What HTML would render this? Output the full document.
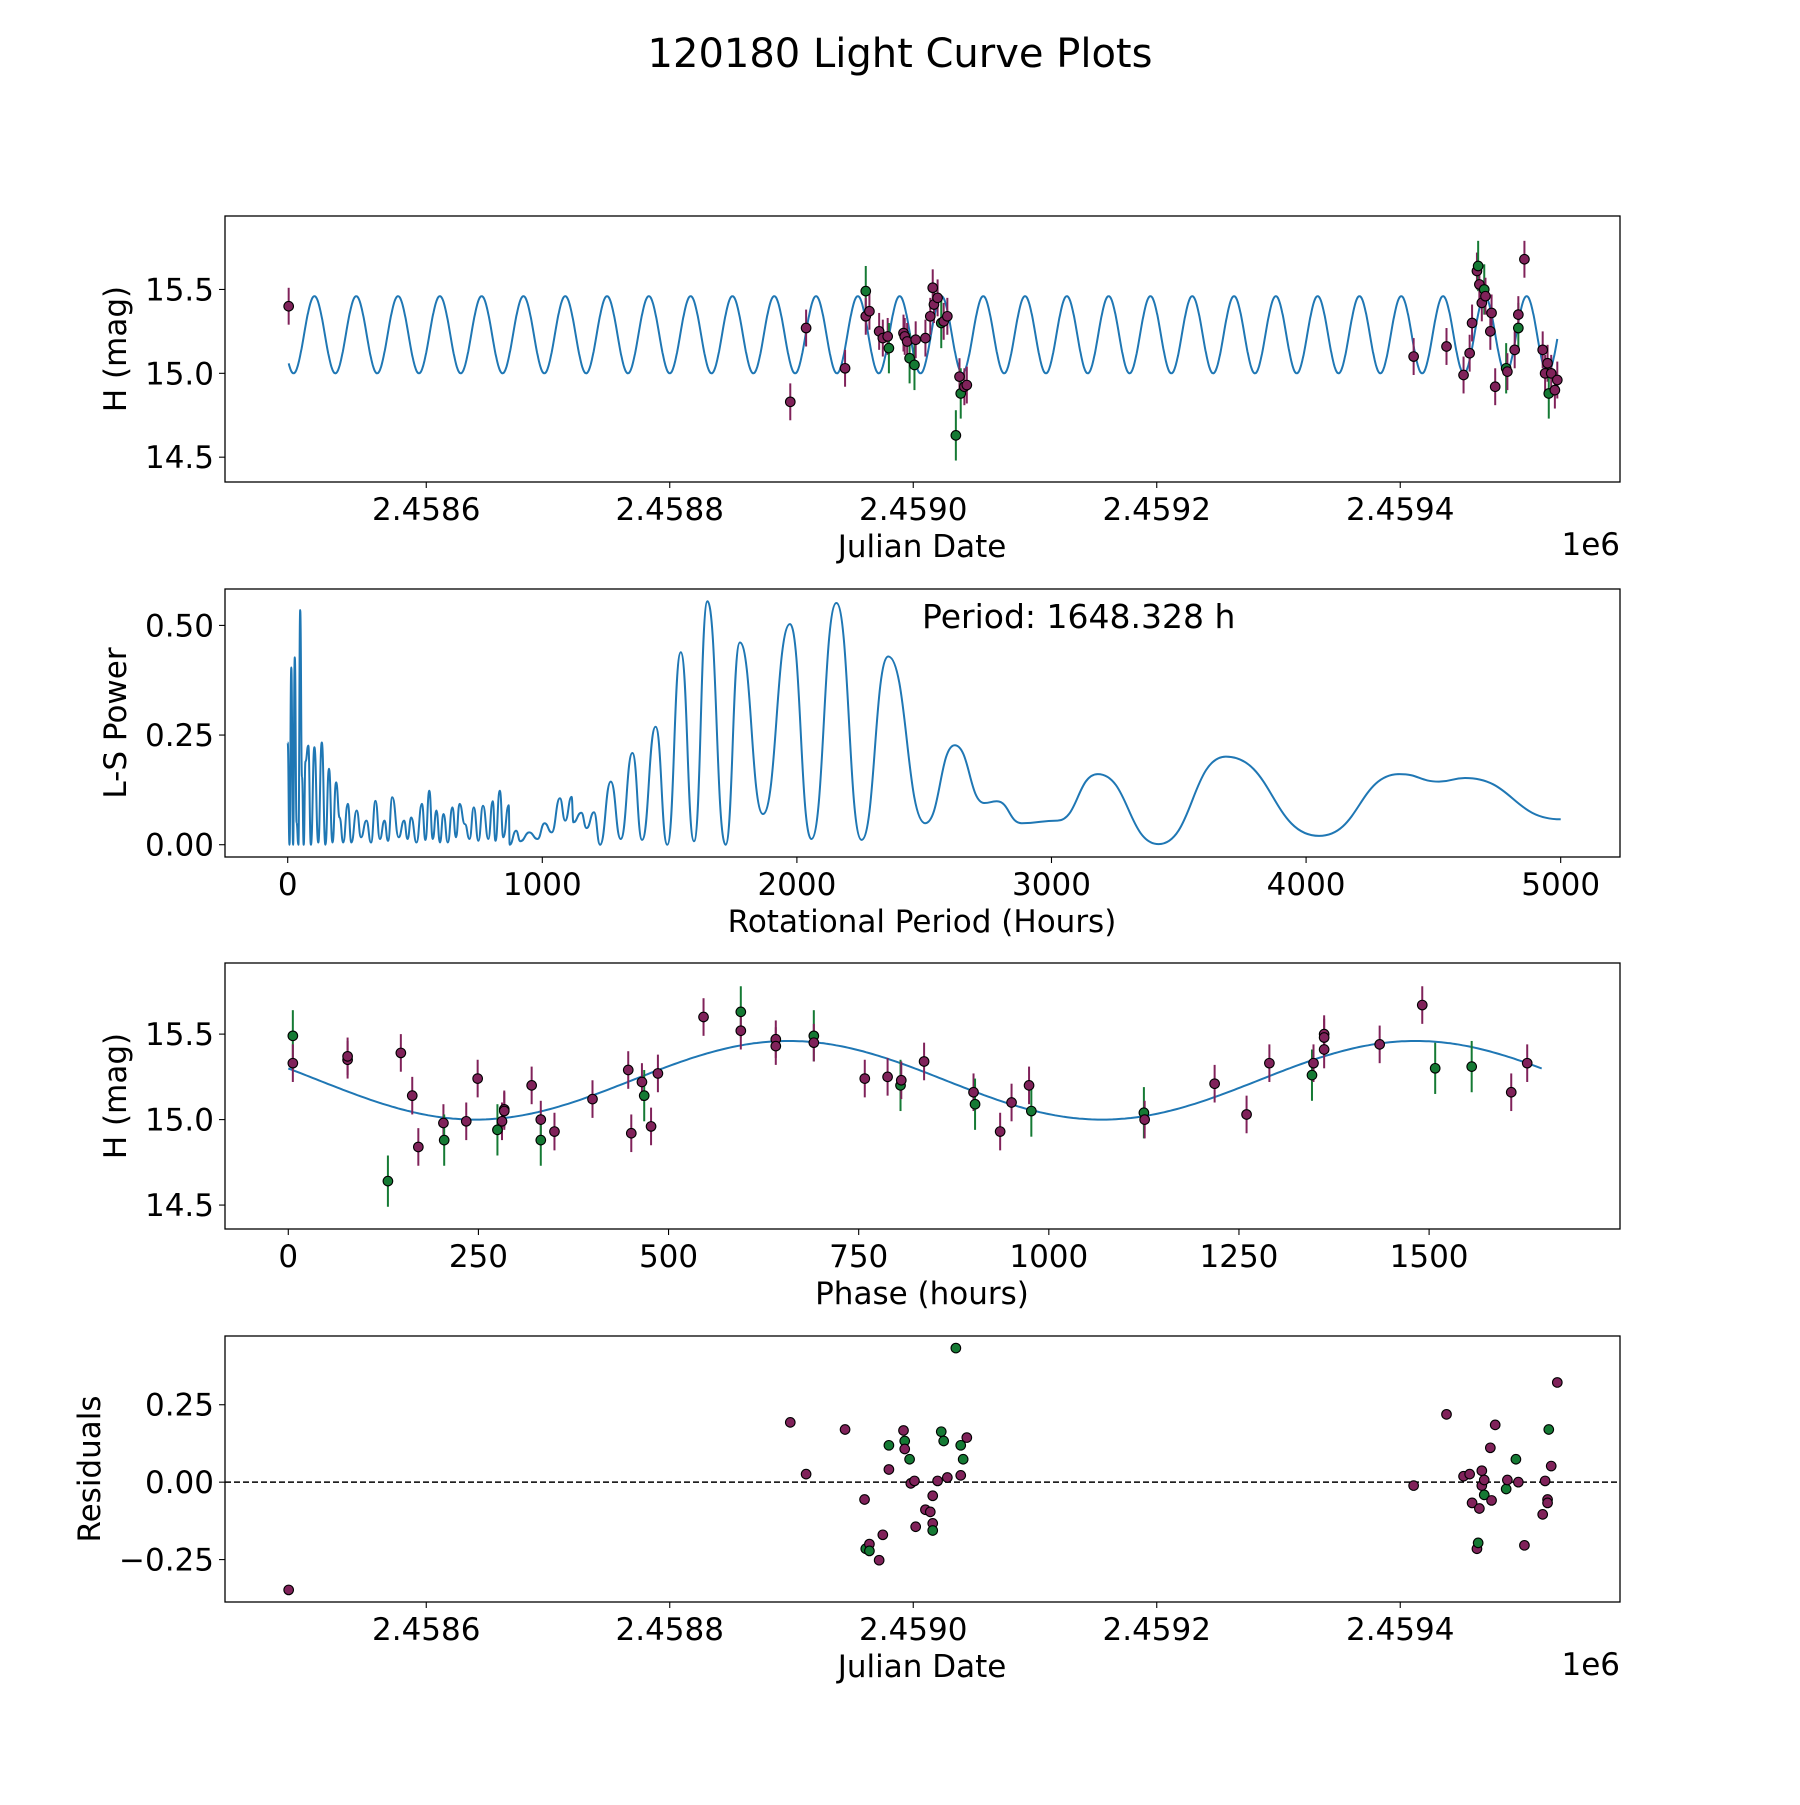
<!DOCTYPE html>
<html><head><meta charset="utf-8"><style>
html,body{margin:0;padding:0;background:#fff;}
svg text{font-family:"DejaVu Sans","Liberation Sans",sans-serif;fill:#000;}
</style></head><body>
<svg id="fig" xmlns="http://www.w3.org/2000/svg" width="1800" height="1800" viewBox="0 0 1800 1800">
<rect x="0" y="0" width="1800" height="1800" fill="#fff"/>
<text x="900" y="67" font-size="40" text-anchor="middle">120180 Light Curve Plots</text>
</svg>
<script>
// ---- data: light curve (panel 1) ----
const lcJD = [2458487,2458899,2458912,2458944,2458961,2458961,2458964,2458972,2458975,2458979,2458980,2458992,2458993,2458995,2458997,2459001,2459002,2459010,2459014,2459016,2459017,2459020,2459023,2459025,2459028,2459035,2459038,2459039,2459042,2459044,
2459411,2459438,2459452,2459457,2459459,2459463,2459464,2459465,2459467,2459469,2459470,2459474,2459475,2459478,2459487,2459488,2459494,2459497,2459497,2459502,2459517,2459519,2459521,2459522,2459524,2459527,2459529];
const lcMag = [15.40,14.83,15.27,15.03,15.49,15.34,15.37,15.25,15.21,15.22,15.15,15.24,15.22,15.19,15.09,15.05,15.20,15.21,15.34,15.51,15.41,15.45,15.30,15.31,15.34,14.63,14.98,14.88,14.92,14.93,
15.10,15.16,14.99,15.12,15.30,15.61,15.64,15.53,15.42,15.50,15.46,15.25,15.36,14.92,15.03,15.01,15.14,15.27,15.35,15.68,15.14,15.00,15.06,14.88,15.00,14.90,14.96];
const lcBand = ["m","m","m","m","g","m","m","m","m","m","g","m","m","m","g","g","m","m","m","m","m","m","g","m","m","g","m","g","m","m",
"m","m","m","m","m","m","g","m","m","g","m","m","m","m","g","m","m","g","m","m","m","m","m","g","m","m","m"];
// ---- data: periodogram (panel 2) ----
const lsPeriod = [0,7,14,21,28,35,42,49,56,63,70,81,91,105,120,134,148,162,176,190,204,218,236,250,271,288,309,327,345,362,380,394,411,436,457,471,485,506,527,541,556,570,584,598,612,629,647,661,675,696,714,731,749,767,788,805,816,833,847,868,872,897,914,949,981,1009,1037,1069,1090,1115,1122,1153,1174,1203,1227,1269,1308,1354,1392,1445,1491,1544,1596,1649,1720,1776,1867,1973,2057,2155,2254,2359,2504,2620,2736,2785,2883,3024,3182,3421,3685,4051,4367,4522,4624,5000];
const lsPower = [0.233,0.0,0.404,0.0,0.427,0.05,0.0,0.535,0.154,0.0,0.19,0.226,0.0,0.222,0.005,0.233,0.0,0.173,0.005,0.142,0.062,0.005,0.093,0.005,0.078,0.017,0.055,0.005,0.10,0.013,0.055,0.009,0.108,0.017,0.055,0.013,0.062,0.005,0.093,0.011,0.123,0.013,0.078,0.005,0.07,0.005,0.085,0.017,0.093,0.047,0.013,0.085,0.009,0.089,0.013,0.099,0.009,0.123,0.017,0.09,0.0,0.032,0.008,0.028,0.013,0.049,0.028,0.106,0.055,0.109,0.051,0.073,0.038,0.074,0.0,0.144,0.013,0.209,0.011,0.269,0.0,0.439,0.008,0.555,0.0,0.461,0.07,0.503,0.013,0.551,0.011,0.429,0.049,0.227,0.095,0.099,0.049,0.055,0.161,0.0015,0.201,0.02,0.161,0.144,0.152,0.058];
// ---- data: phase-folded (panel 3) ----
const phHours = [6,6,78,78,131,148,163,171,204,205,234,249,275,281,284,284,320,332,332,350,400,447,451,465,468,477,486,546,595,595,641,641,691,691,758,788,805,806,836,901,903,936,951,974,977,1125,1126,1218,1260,1290,1346,1348,1362,1362,1362,1435,1491,1508,1556,1608,1629];
const phMag = [15.49,15.33,15.35,15.37,14.64,15.39,15.14,14.84,14.98,14.88,14.99,15.24,14.94,14.99,15.06,15.05,15.20,15.00,14.88,14.93,15.12,15.29,14.92,15.22,15.14,14.96,15.27,15.60,15.63,15.52,15.47,15.43,15.49,15.45,15.24,15.25,15.20,15.23,15.34,15.16,15.09,14.93,15.10,15.20,15.05,15.04,15.00,15.21,15.03,15.33,15.26,15.33,15.50,15.48,15.41,15.44,15.67,15.30,15.31,15.16,15.33];
const phBand = ["g","m","m","m","g","m","m","m","m","g","m","m","g","m","m","m","m","m","g","m","m","m","m","m","g","m","m","m","g","m","m","m","g","m","m","m","g","m","m","m","g","m","m","m","g","g","m","m","m","m","g","m","m","m","m","m","m","g","g","m","m"];
// ---- data: residuals (panel 4) ----
const resJD = [2458487,2458899,2458912,2458944,2458960,2458961,2458964,2458964,2458972,2458975,2458980,2458980,2458992,2458993,2458993,2458997,2458998,2459001,2459002,2459010,2459014,2459016,2459016,2459016,2459020,2459023,2459025,2459028,2459035,2459039,2459039,2459041,2459044,
2459411,2459438,2459452,2459457,2459459,2459463,2459464,2459465,2459467,2459467,2459469,2459469,2459474,2459475,2459478,2459487,2459488,2459495,2459497,2459502,2459517,2459519,2459521,2459521,2459522,2459524,2459529];
const resVal = [-0.348,0.193,0.026,0.170,-0.056,-0.215,-0.200,-0.222,-0.252,-0.170,0.119,0.041,0.167,0.133,0.107,0.074,-0.004,0.004,-0.144,-0.089,-0.096,-0.044,-0.133,-0.156,0.004,0.163,0.133,0.015,0.433,0.022,0.119,0.074,0.144,
-0.011,0.219,0.019,0.026,-0.067,-0.215,-0.196,-0.085,0.037,-0.011,-0.041,0.007,0.111,-0.059,0.185,-0.022,0.007,0.074,0.000,-0.204,-0.104,0.004,-0.056,-0.067,0.170,0.052,0.322];
const resBand = ["m","m","m","m","m","g","m","g","m","m","g","m","m","g","m","g","m","m","m","m","m","m","m","g","m","g","g","m","g","m","g","g","m",
"m","m","m","m","m","m","g","m","m","m","g","m","m","m","m","g","m","g","m","m","m","m","m","m","g","m","m"];
const jdTicks = [2458600,2458800,2459000,2459200,2459400];
const jdTickLabels = ["2.4586","2.4588","2.4590","2.4592","2.4594"];
const magTicks = [14.5,15.0,15.5];
const magTickLabels = ["14.5","15.0","15.5"];
const lsXTicks = [0,1000,2000,3000,4000,5000];
const lsYTicks = [0,0.25,0.5];
const lsYTickLabels = ["0.00","0.25","0.50"];
const phTicks = [0,250,500,750,1000,1250,1500];
const resTicks = [-0.25,0,0.25];
const resTickLabels = ["\u22120.25","0.00","0.25"];
const modelMean = 15.23, modelAmp = 0.23, modelPeriodH = 824;

const NS = "http://www.w3.org/2000/svg";
const svg = document.getElementById('fig');
const COL = {m:"#80225a", g:"#157a34"};
const FS = 31;
function mk(tag, attrs, parent){const e=document.createElementNS(NS,tag);for(const k in attrs)e.setAttribute(k,attrs[k]);(parent||svg).appendChild(e);return e;}
function axes(x0,x1,y0,y1,xmin,xmax,ymin,ymax){return {x0,x1,y0,y1,sx:v=>x0+(v-xmin)/(xmax-xmin)*(x1-x0),sy:v=>y1-(v-ymin)/(ymax-ymin)*(y1-y0)};}
const A1=axes(225,1620,216,482,2458434.7,2459580.5,14.352,15.938);
const A2=axes(225,1620,589,857,-246.3,5233,-0.028,0.583);
const A3=axes(225,1620,963,1229,-83.2,1751,14.36,15.916);
const A4=axes(225,1620,1336,1602,2458434.7,2459580.5,-0.387,0.472);

function frame(A,name){
  const g=mk('g',{});
  
  
  return g;
}
function border(A,g){
  const r=mk('rect',{x:A.x0,y:A.y0,width:A.x1-A.x0,height:A.y1-A.y0,fill:'none',stroke:'#000','stroke-width':1.3},g);
  
  
}
function xticks(A,g,vals,labels){
  vals.forEach((v,i)=>{const x=A.sx(v);
    mk('line',{x1:x,x2:x,y1:A.y1,y2:A.y1+6,stroke:'#000','stroke-width':1.1},g);
    const t=mk('text',{x:x,y:A.y1+38,'font-size':FS,'text-anchor':'middle'},g);t.textContent=labels[i];
    
    });
}
function yticks(A,g,vals,labels){
  vals.forEach((v,i)=>{const y=A.sy(v);
    mk('line',{x1:A.x0-6,x2:A.x0,y1:y,y2:y,stroke:'#000','stroke-width':1.1},g);
    const t=mk('text',{x:A.x0-11,y:y+11,'font-size':FS,'text-anchor':'end'},g);t.textContent=labels[i];
    
    });
}
function label(g,x,y,txt,rot,name){
  const t=mk('text',{x:x,y:y,'font-size':FS,'text-anchor':'middle'},g);
  if(rot)t.setAttribute('transform','rotate(-90 '+x+' '+y+')');
  t.textContent=txt;
  
  
}
function clip(A,id){const d=mk('clipPath',{id:id});mk('rect',{x:A.x0,y:A.y0,width:A.x1-A.x0,height:A.y1-A.y0},d);}
function points(A,g,xs,ys,bands,errs,name){
  xs.forEach((xv,i)=>{const x=A.sx(xv),y=A.sy(ys[i]);const c=COL[bands[i]];
    if(errs){const e=bands[i]==='g'?0.15:0.11;
      const l=mk('line',{x1:x,x2:x,y1:A.sy(ys[i]+e),y2:A.sy(ys[i]-e),stroke:c,'stroke-width':2},g);
      
      }
  });
  xs.forEach((xv,i)=>{const x=A.sx(xv),y=A.sy(ys[i]);
    const p=mk('circle',{cx:x,cy:y,r:4.8,fill:COL[bands[i]],stroke:'#000','stroke-width':1.1},g);
    
    });
}
function model(h){return modelMean-modelAmp*Math.cos(2*Math.PI*h/modelPeriodH);}

// Panel 1
clip(A1,'c1');
const g1=frame(A1,'light-curve-panel');
const cg1=mk('g',{'clip-path':'url(#c1)'},g1);
let d='';for(let jd=lcJD[0];jd<=lcJD[lcJD.length-1];jd+=0.5){const v=model((jd-2458491)*24);d+=(d?'L':'M')+A1.sx(jd).toFixed(1)+','+A1.sy(v).toFixed(1);}
const m1=mk('path',{d:d,fill:'none',stroke:'#1f77b4','stroke-width':2},cg1);


points(A1,cg1,lcJD,lcMag,lcBand,true,'observation-point');
border(A1,g1);
xticks(A1,g1,jdTicks,jdTickLabels);
yticks(A1,g1,magTicks,magTickLabels);
label(g1,922,557,'Julian Date',false,'x-axis-title');
label(g1,126,349,'H (mag)',true,'y-axis-title');
let t1=mk('text',{x:1620,y:555,'font-size':FS,'text-anchor':'end'},g1);t1.textContent='1e6';



// Panel 2 (smooth interpolation between extrema: horizontal tangents)
const g2=frame(A2,'periodogram-panel');
d='';lsPeriod.forEach((p,i)=>{const x=A2.sx(p),y=A2.sy(lsPower[i]);
  if(!i){d+='M'+x.toFixed(1)+','+y.toFixed(1);return;}
  const px=A2.sx(lsPeriod[i-1]),py=A2.sy(lsPower[i-1]);const mx=(px+x)/2;
  d+='C'+mx.toFixed(1)+','+py.toFixed(1)+' '+mx.toFixed(1)+','+y.toFixed(1)+' '+x.toFixed(1)+','+y.toFixed(1);});
const m2=mk('path',{d:d,fill:'none',stroke:'#1f77b4','stroke-width':2,'stroke-linejoin':'round'},g2);


border(A2,g2);
xticks(A2,g2,lsXTicks,lsXTicks.map(String));
yticks(A2,g2,lsYTicks,lsYTickLabels);
label(g2,922,932,'Rotational Period (Hours)',false,'x-axis-title');
label(g2,126,723,'L-S Power',true,'y-axis-title');
let t2=mk('text',{x:922,y:628,'font-size':33},g2);t2.textContent='Period: 1648.328 h';



// Panel 3
const g3=frame(A3,'phase-fold-panel');
d='';for(let h=0;h<=1648.3;h+=4){const v=modelMean-modelAmp*Math.sin(2*Math.PI*(h-40)/modelPeriodH);d+=(d?'L':'M')+A3.sx(h).toFixed(1)+','+A3.sy(v).toFixed(1);}
const m3=mk('path',{d:d,fill:'none',stroke:'#1f77b4','stroke-width':2},g3);


points(A3,g3,phHours,phMag,phBand,true,'phase-point');
border(A3,g3);
xticks(A3,g3,phTicks,phTicks.map(String));
yticks(A3,g3,magTicks,magTickLabels);
label(g3,922,1304,'Phase (hours)',false,'x-axis-title');
label(g3,126,1096,'H (mag)',true,'y-axis-title');

// Panel 4
const g4=frame(A4,'residuals-panel');
const zl=mk('line',{x1:A4.x0,x2:A4.x1,y1:A4.sy(0),y2:A4.sy(0),stroke:'#000','stroke-width':1.5,'stroke-dasharray':'6,3'},g4);


points(A4,g4,resJD,resVal,resBand,false,'residual-point');
border(A4,g4);
xticks(A4,g4,jdTicks,jdTickLabels);
yticks(A4,g4,resTicks,resTickLabels);
label(g4,922,1677,'Julian Date',false,'x-axis-title');
label(g4,100,1469,'Residuals',true,'y-axis-title');
let t4=mk('text',{x:1620,y:1675,'font-size':FS,'text-anchor':'end'},g4);t4.textContent='1e6';


</script>
</body></html>
